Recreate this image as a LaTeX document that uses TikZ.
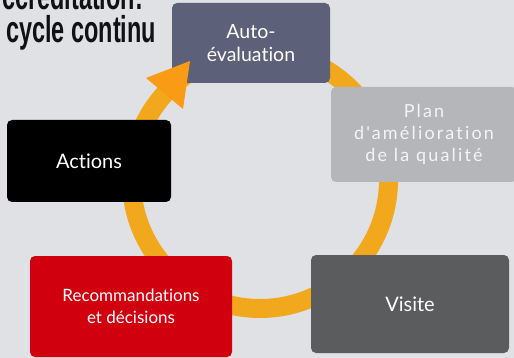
\documentclass[tikz,border=0pt]{standalone}
\usepackage{fontspec}
\setmainfont{Lato}[Ligatures=NoCommon]
\newfontfamily\titlefont{Liberation Sans}
\newfontfamily\spacedfont{Lato}[LetterSpace=12,Ligatures=NoCommon]
\definecolor{bgc}{HTML}{E0E1E5}
\definecolor{ringc}{HTML}{F2A81C}
\definecolor{arrowc}{HTML}{F99B15}
\definecolor{cauto}{HTML}{5D6079}
\definecolor{cplan}{HTML}{B5B6B9}
\definecolor{cact}{HTML}{000000}
\definecolor{creco}{HTML}{D0000F}
\definecolor{cvis}{HTML}{5B5C5E}
\definecolor{plantext}{HTML}{F4F4F4}
\definecolor{titlec}{HTML}{111111}
\tikzset{
  stepbox/.style={rounded corners=5pt, inner sep=0pt, align=center, text=white},
  ringline/.style={draw=ringc, line width=19pt},
  titletext/.style={anchor=base west, inner sep=0pt, text=titlec}
}
\newcommand{\titlestyle}[1]{\titlefont\bfseries\fontsize{34}{34}\selectfont\scalebox{0.69}[1.1]{#1}}
\begin{document}
\begin{tikzpicture}[x=1pt,y=-1pt]
\useasboundingbox (0,0) rectangle (514,358);
\clip (0,0) rectangle (514,358);
\fill[bgc] (0,0) rectangle (514,358);
% title
\node[titletext] (t1) at (2,10) {\titlestyle{ccréditation:}};
\node[titletext] (t2) at (6,43) {\titlestyle{cycle continu}};
% ring
\draw[ringline] (260,180) circle[radius=128.5];
% boxes
\node[stepbox, fill=cauto, minimum width=158pt, minimum height=80pt, font=\fontsize{19.5}{23}\selectfont] (auto) at (251,43) {Auto-\\évaluation};
\node[stepbox, fill=cplan, minimum width=186pt, minimum height=95pt, text=plantext, font=\spacedfont\fontsize{18}{22}\selectfont] (plan) at (424,134.5) {Plan\\d'amélioration\\de la qualité};
\node[stepbox, fill=cact, minimum width=164pt, minimum height=82pt, font=\fontsize{20}{24}\selectfont] (act) at (89,161) {Actions};
\node[stepbox, fill=creco, minimum width=202pt, minimum height=101pt, font=\fontsize{17}{22}\selectfont] (reco) at (131,306.5) {Recommandations\\et décisions};
\node[stepbox, fill=cvis, minimum width=198pt, minimum height=98pt, font=\fontsize{20}{24}\selectfont] (vis) at (410,304) {Visite};
% arrowhead
\fill[arrowc] (146,78) -- (190,61) -- (183,109) -- cycle;
\end{tikzpicture}
\end{document}
